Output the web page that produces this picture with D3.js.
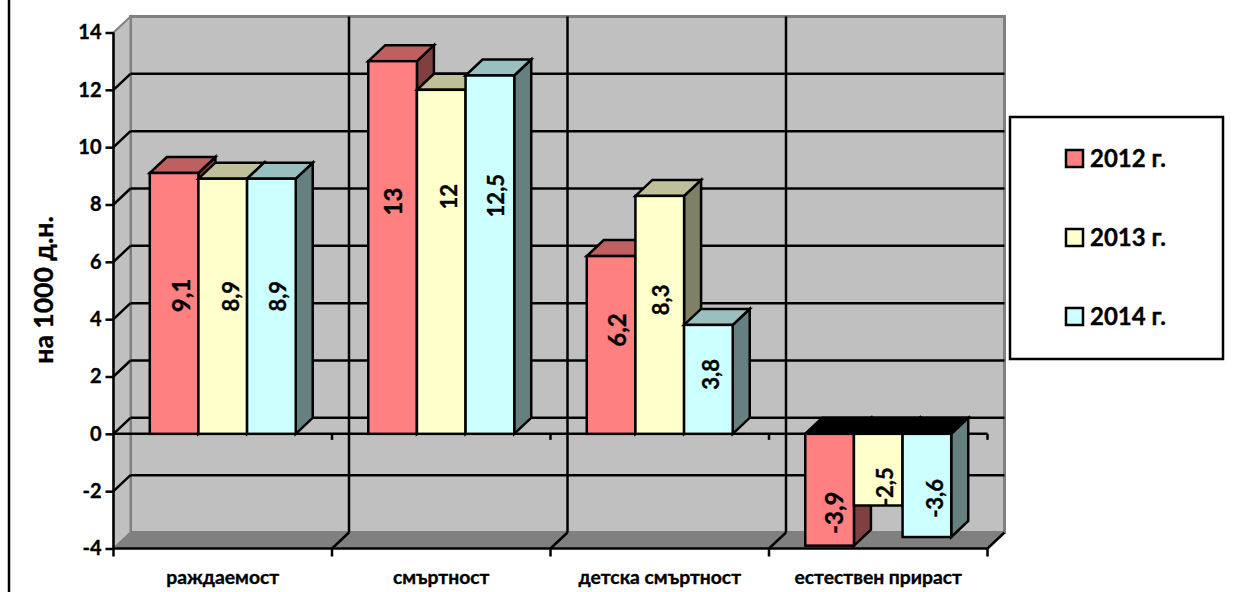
<!DOCTYPE html>
<html>
<head>
<meta charset="utf-8">
<script src="https://cdnjs.cloudflare.com/ajax/libs/d3/7.8.5/d3.min.js"></script>
<style>
  html, body { margin: 0; padding: 0; background: #fff; overflow: hidden; }
  text { font-family: Lato, "Open Sans", "Noto Sans", sans-serif; font-weight: 700; fill: #000; stroke: #000; stroke-width: 0.35px; }
</style>
</head>
<body>
<div id="chart"></div>
<script>
const categories = ["раждаемост", "смъртност", "детска смъртност", "естествен прираст"];
const years = ["2012 г.", "2013 г.", "2014 г."];
const values2012 = [9.1, 13, 6.2, -3.9];
const values2013 = [8.9, 12, 8.3, -2.5];
const values2014 = [8.9, 12.5, 3.8, -3.6];
const yTicks = [-4, -2, 0, 2, 4, 6, 8, 10, 12, 14];
const yTitle = "на 1000 д.н.";

const seriesValues = [values2012, values2013, values2014];
const fronts = ["#ff8080", "#ffffcc", "#ccffff"];
const tops = ["#bf6060", "#bfbf99", "#99bfbf"];
const sides = ["#804040", "#808066", "#668080"];
// the labels were dragged by hand in the original chart, px from bar centre
const labelShiftY = [
  [-8, -46, -15, 23],
  [-10, -65, -15, 17],
  [-10, -59, -5, 13],
];
const labelShiftX = [
  [7, 1, 6, 5],
  [9, 8, 2, 7],
  [7, 6, 3, 8],
];

const width = 1235;
const height = 592;
const dx = 17;
const dy = 16;

const x = d3.scaleBand().domain(d3.range(categories.length)).range([113.5, 987.5])
  .paddingInner(0.332).paddingOuter(0.166);
const xInner = d3.scaleBand().domain(d3.range(years.length)).range([0, x.bandwidth()]);
const y = d3.scaleLinear().domain([-4, 14]).range([548.5, 32.5]);

const svg = d3.select("#chart").append("svg")
  .attr("width", width).attr("height", height)
  .style("display", "block");

const poly = (g, pts, fill, stroke, sw) => g.append("polygon")
  .attr("points", pts.map((p) => p.join(",")).join(" "))
  .attr("fill", fill)
  .attr("stroke", stroke)
  .attr("stroke-width", sw)
  .attr("stroke-linejoin", "miter");

const line = (g, x1, y1, x2, y2, stroke = "#000", sw = 2.5) => g.append("line")
  .attr("x1", x1).attr("y1", y1).attr("x2", x2).attr("y2", y2)
  .attr("stroke", stroke).attr("stroke-width", sw);

// page edge line
line(svg, 9, 0, 9, height);

// walls and floor
const [xa, xb] = x.range();
const [yBottom, yTop] = y.range();
const walls = svg.append("g");
poly(walls, [[xa + dx, yTop - dy], [xb + dx, yTop - dy], [xb + dx, yBottom - dy], [xa + dx, yBottom - dy]], "#c0c0c0", "#808080", 3);
poly(walls, [[xa, yTop], [xa + dx, yTop - dy], [xa + dx, yBottom - dy], [xa, yBottom]], "#c0c0c0", "#808080", 2);
poly(walls, [[xa, yBottom], [xb, yBottom], [xb + dx, yBottom - dy], [xa + dx, yBottom - dy]], "#808080", "#808080", 1);

// gridlines
const grid = svg.append("g");
yTicks.filter((t) => t > -4 && t < 14).forEach((t) => {
  line(grid, xa, y(t), xa + dx, y(t) - dy);
  line(grid, xa + dx, y(t) - dy, xb + dx, y(t) - dy);
});
const step = x.step();
d3.range(1, categories.length).forEach((i) => {
  line(grid, xa + step * i + dx, yTop - dy, xa + step * i + dx, yBottom - dy);
});

// category ticks on the floor
d3.range(1, categories.length + 1).forEach((i) => {
  const tx = xa + step * i;
  line(grid, tx, yBottom, tx + dx, yBottom - dy);
  line(grid, tx, yBottom, tx, yBottom + 8);
  line(grid, tx, y(0), tx, y(0) + 6);
});
line(grid, xa, yBottom, xb, yBottom);
line(grid, xa, y(0), xb, y(0));

// y axis
const yAxis = d3.axisLeft(y).tickValues(yTicks).tickSize(8).tickPadding(4).tickFormat((d) => d);
const axisG = svg.append("g").attr("transform", `translate(${xa},0)`).call(yAxis);
axisG.attr("font-family", null).attr("font-size", null);
axisG.select(".domain").remove();
axisG.selectAll("line").attr("stroke", "#000").attr("stroke-width", 2.5);
axisG.selectAll("text").attr("font-size", 20);
line(axisG, 0, yTop, 0, yBottom + 8);

// bars
const bars = svg.append("g");
categories.forEach((c, ci) => {
  seriesValues.forEach((vals, si) => {
    const v = vals[ci];
    const x0 = x(ci) + xInner(si);
    const x1 = x0 + xInner.bandwidth();
    const yT = y(Math.max(v, 0));
    const yB = y(Math.min(v, 0));
    poly(bars, [[x1, yT], [x1 + dx, yT - dy], [x1 + dx, yB - dy], [x1, yB]], sides[si], "#000", 2.5);
    poly(bars, [[x0, yT], [x1, yT], [x1 + dx, yT - dy], [x0 + dx, yT - dy]], v < 0 ? "#000" : tops[si], "#000", 2.5);
    bars.append("rect")
      .attr("x", x0).attr("y", yT)
      .attr("width", x1 - x0).attr("height", yB - yT)
      .attr("fill", fronts[si]).attr("stroke", "#000").attr("stroke-width", 2.5);
  });
});

// value labels
const labels = svg.append("g");
categories.forEach((c, ci) => {
  seriesValues.forEach((vals, si) => {
    const v = vals[ci];
    const lx = x(ci) + xInner(si) + xInner.bandwidth() / 2 + labelShiftX[si][ci];
    const ly = (y(0) + y(v)) / 2 + labelShiftY[si][ci];
    labels.append("text")
      .attr("transform", `translate(${lx},${ly}) rotate(-90)`)
      .attr("text-anchor", "middle").attr("dy", "0.35em")
      .attr("font-size", si === 0 ? 24 : 22)
      .text(String(v).replace(".", ","));
  });
});

// category labels
categories.forEach((c, ci) => {
  svg.append("text")
    .attr("x", x(ci) + x.bandwidth() / 2).attr("y", 584)
    .attr("text-anchor", "middle").attr("font-size", 19.3)
    .text(c);
});

// y title
svg.append("text")
  .attr("transform", "translate(44,290) rotate(-90)")
  .attr("text-anchor", "middle").attr("dy", "0.35em")
  .attr("font-size", 26.5)
  .text(yTitle);

// legend
const legend = svg.append("g");
legend.append("rect")
  .attr("x", 1010).attr("y", 117).attr("width", 213).attr("height", 242)
  .attr("fill", "#fff").attr("stroke", "#000").attr("stroke-width", 2.5);
const legendY = d3.scalePoint().domain(d3.range(years.length)).range([159, 317]);
years.forEach((yr, i) => {
  legend.append("rect")
    .attr("x", 1066).attr("y", legendY(i) - 9).attr("width", 17).attr("height", 17)
    .attr("fill", fronts[i]).attr("stroke", "#000").attr("stroke-width", 2.5);
  legend.append("text")
    .attr("x", 1090).attr("y", legendY(i)).attr("dy", "0.35em")
    .attr("font-size", 24)
    .text(yr);
});
</script>
</body>
</html>
